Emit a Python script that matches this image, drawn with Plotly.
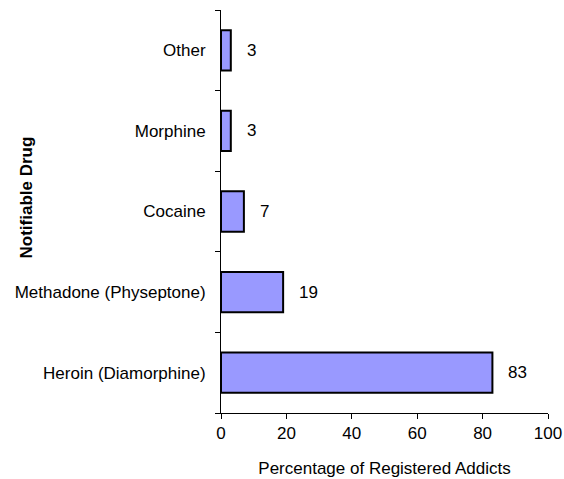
import plotly.graph_objects as go

drugs = ["Heroin (Diamorphine)", "Methadone (Physeptone)", "Cocaine", "Morphine", "Other"]
percent = [83, 19, 7, 3, 3]
x_ticks = [0, 20, 40, 60, 80, 100]

FONT = "Liberation Sans, Arial, sans-serif"
FS = 17

W, H = 564, 479
ML, MR, MT, MB = 221, 16, 10, 66

fig = go.Figure()
fig.add_trace(go.Bar(
    y=drugs, x=percent, orientation="h",
    marker=dict(color="#9999FF", line=dict(color="black", width=2)),
    width=0.5,
    hoverinfo="skip",
))

for d, v in zip(drugs, percent):
    fig.add_annotation(x=v, y=d, text=str(v), showarrow=False,
                       xanchor="left", xshift=14,
                       font=dict(family=FONT, size=FS, color="black"))

fig.add_annotation(xref="paper", yref="paper",
                   x=(15 - ML) / (W - ML - MR),
                   y=(H - MB - 198) / (H - MT - MB),
                   text="<b>Notifiable Drug</b>", showarrow=False, textangle=-90,
                   font=dict(family=FONT, size=FS, color="black"))

fig.update_layout(
    width=W, height=H,
    margin=dict(l=ML, r=MR, t=MT, b=MB, autoexpand=False),
    paper_bgcolor="white", plot_bgcolor="white",
    showlegend=False,
    font=dict(family=FONT, size=FS, color="black"),
    xaxis=dict(range=[0, 100], tickvals=x_ticks, showgrid=False, zeroline=False,
               showline=True, linecolor="black", linewidth=1, automargin=False,
               ticks="outside", ticklen=5, tickcolor="black",
               title=dict(text="Percentage of Registered Addicts", standoff=19,
                          font=dict(family=FONT, size=FS))),
    yaxis=dict(range=[-0.5, 4.5], showgrid=False, zeroline=False,
               showline=True, linecolor="black", linewidth=1, automargin=False,
               ticks="outside", ticklen=5, tickcolor="black",
               tickson="boundaries", ticklabelstandoff=11),
)

fig.write_html(
    "out.html",
    config={"displayModeBar": False, "staticPlot": True},
    post_script="document.body.style.margin='0';document.body.style.overflow='hidden';",
)
